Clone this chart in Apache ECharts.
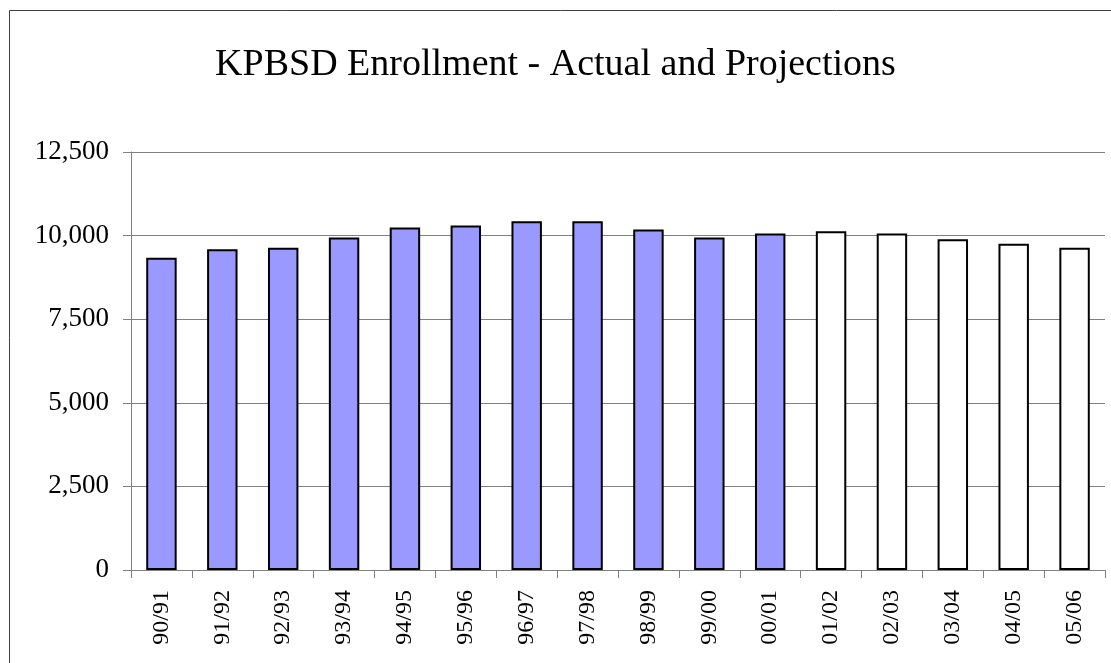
<!DOCTYPE html>
<html>
<head>
    <meta charset="utf-8">
    <script src="https://cdn.jsdelivr.net/npm/echarts@6/dist/echarts.min.js"></script>
</head>
<body style="margin:0">
<div id="echartsMain" style="width: 1111px; height: 663px;"></div>
</body>
</html>

<script type="text/javascript">
    let years = ['90/91', '91/92', '92/93', '93/94', '94/95', '95/96', '96/97', '97/98',
        '98/99', '99/00', '00/01', '01/02', '02/03', '03/04', '04/05', '05/06']
    // actual enrollment, then projections
    let actual = [9340, 9590, 9640, 9940, 10240, 10300, 10430, 10430, 10180, 9940, 10060,
        '-', '-', '-', '-', '-']
    let projected = ['-', '-', '-', '-', '-', '-', '-', '-', '-', '-', '-',
        10130, 10060, 9890, 9760, 9640]

    let myChart = echarts.init(document.getElementById('echartsMain'))
    let font = 'Liberation Serif, Times New Roman, serif'

    let option = {
        animation: false,
        backgroundColor: '#fff',
        textStyle: {fontFamily: font},
        graphic: [{
            type: 'rect',
            shape: {x: 9.5, y: 10.5, width: 1200, height: 800},
            style: {fill: 'none', stroke: '#404040', lineWidth: 1},
            silent: true
        }],
        title: {
            text: 'KPBSD Enrollment - Actual and Projections',
            left: 'center',
            top: 41,
            textStyle: {fontFamily: font, fontSize: 38, fontWeight: 'normal', color: '#000'}
        },
        grid: {left: 131, right: 6, top: 152, bottom: 93},
        xAxis: {
            type: 'category',
            data: years,
            axisLine: {lineStyle: {color: '#808080', width: 1}},
            axisTick: {show: true, length: 8, lineStyle: {color: '#808080'}},
            axisLabel: {
                rotate: 90,
                interval: 0,
                margin: 20,
                fontFamily: font,
                fontSize: 24,
                color: '#000'
            }
        },
        yAxis: {
            type: 'value',
            min: 0,
            max: 12500,
            interval: 2500,
            axisLine: {show: true, lineStyle: {color: '#808080', width: 1}},
            axisTick: {show: true, length: 8, lineStyle: {color: '#808080'}},
            splitLine: {lineStyle: {color: '#808080', width: 1}},
            axisLabel: {
                margin: 22,
                fontFamily: font,
                fontSize: 27,
                color: '#000',
                formatter: v => v.toLocaleString('en-US')
            }
        },
        series: [
            {
                name: 'Actual',
                type: 'bar',
                barGap: '-100%',
                barCategoryGap: '50%',
                data: actual,
                itemStyle: {color: '#9999FF', borderColor: '#000', borderWidth: 2}
            },
            {
                name: 'Projected',
                type: 'bar',
                barGap: '-100%',
                barCategoryGap: '50%',
                data: projected,
                itemStyle: {color: '#fff', borderColor: '#000', borderWidth: 2}
            }
        ]
    }
    myChart.setOption(option)
</script>
